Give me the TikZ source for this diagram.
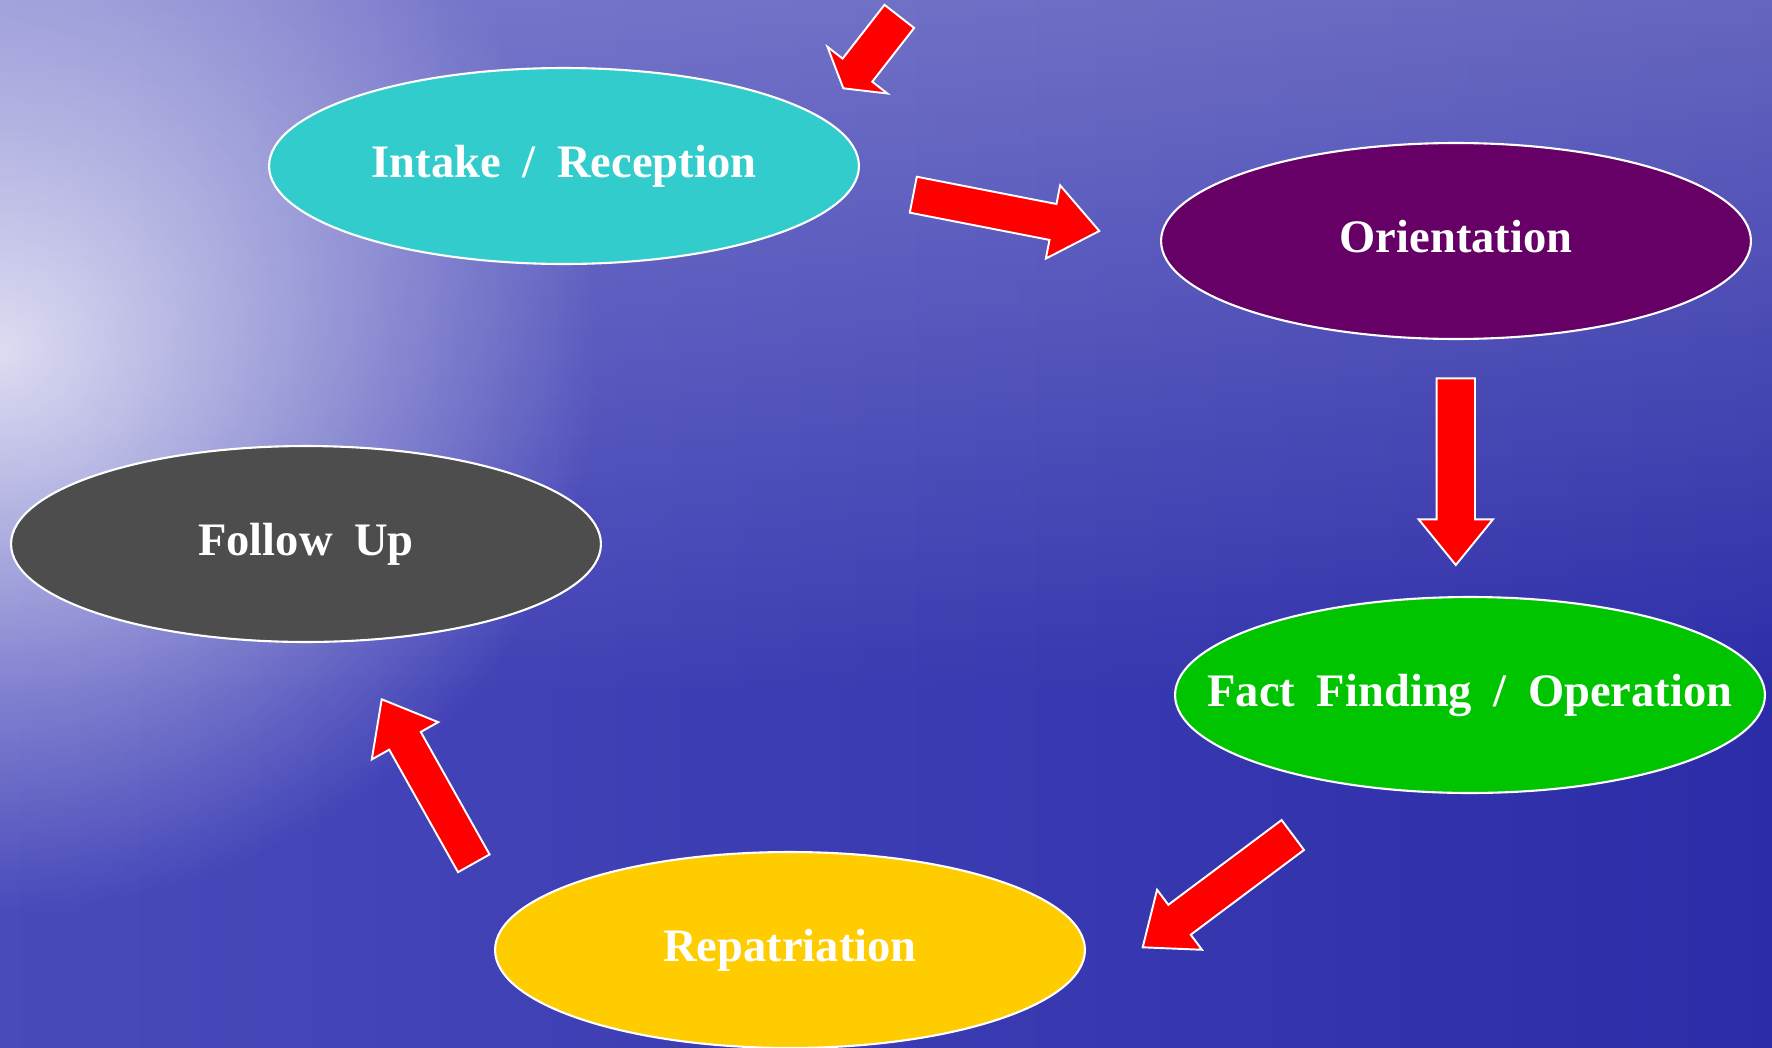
\documentclass[tikz,border=0pt]{standalone}
\usepackage{fontspec}
\setmainfont{Liberation Serif}[WordSpace=1.85]
\usetikzlibrary{shapes.geometric,calc,fadings}
\definecolor{cIntake}{HTML}{33CCCC}
\definecolor{cOrient}{HTML}{660066}
\definecolor{cFollow}{HTML}{4D4D4D}
\definecolor{cFact}{HTML}{00C400}
\definecolor{cRepat}{HTML}{FFCC00}
\definecolor{bgLeft}{HTML}{4A4ABC}
\definecolor{bgRight}{HTML}{2C2CA8}
\tikzfading[name=midstripe, top color=transparent!100, middle color=transparent!0, bottom color=transparent!100]
\tikzfading[name=glow, inner color=transparent!0, outer color=transparent!100]
\tikzfading[name=topdown, top color=transparent!0, bottom color=transparent!100]
\tikzset{
  stage/.style={ellipse, draw=white, line width=1.2pt, minimum width=11.8cm, minimum height=3.92cm, inner sep=0pt},
  stagetext/.style={text=white, font=\fontsize{26.5}{30}\selectfont\bfseries, text height=17.5pt, text depth=0pt, inner sep=0pt, yshift=2.3pt},
  redarrow/.style={fill=red, draw=white, line width=1.1pt, line join=miter}
}
\newcommand\blockarrow[5]{%
  \coordinate (#1-h) at ($(#2)!#5!(#1)$);
  \draw[redarrow] ($(#1)!#3!90:(#2)$) -- ($(#1-h)!#3!90:(#2)$) -- ($(#1-h)!#4!90:(#2)$) -- (#2)
     -- ($(#1-h)!#4!-90:(#2)$) -- ($(#1-h)!#3!-90:(#2)$) -- ($(#1)!#3!-90:(#2)$) -- cycle;
}
\begin{document}
\begin{tikzpicture}[x=0.02cm, y=-0.02cm]
\useasboundingbox (0,0) rectangle (1772,1048);
% background
\begin{scope}
\clip (0,0) rectangle (1772,1048);
\fill[bgRight] (-10,-10) rectangle (1782,1058);
\shade[left color=bgLeft, right color=bgRight] (-10,-10) rectangle (1782,1058);
\fill[white, fill opacity=0.28, path fading=topdown] (-10,-10) rectangle (1782,700);
\fill[white, fill opacity=0.78, path fading=glow] (0,350) ellipse (600 and 560);
\fill[white, fill opacity=0.35, path fading=midstripe] (-10,100) rectangle (1782,160);
\end{scope}
% stages
\node[stage, fill=cIntake, label={[stagetext]center:Intake / Reception}] (intake) at (564,166) {};
\node[stage, fill=cOrient, label={[stagetext]center:Orientation}] (orient) at (1456,241) {};
\node[stage, fill=cFollow, label={[stagetext]center:Follow Up}] (follow) at (306,544) {};
\node[stage, fill=cFact, label={[stagetext]center:Fact Finding / Operation}] (fact) at (1470,695) {};
\node[stage, fill=cRepat, label={[stagetext]center:Repatriation}] (repat) at (790,950) {};
% arrows
\coordinate (a1t) at (899.3,16.4);  \coordinate (a1p) at (843.3,88.3);
\coordinate (a2t) at (913.3,194.7); \coordinate (a2p) at (1099.3,231);
\coordinate (a3t) at (1455.8,378.3); \coordinate (a3p) at (1455.8,565);
\coordinate (a4t) at (1292.8,835);  \coordinate (a4p) at (1142.7,947.3);
\coordinate (a5t) at (473.8,863.3); \coordinate (a5p) at (381.7,699.3);
\blockarrow{a1t}{a1p}{0.376cm}{0.76cm}{0.46cm}
\blockarrow{a2t}{a2p}{0.366cm}{0.746cm}{0.944cm}
\blockarrow{a3t}{a3p}{0.384cm}{0.744cm}{0.914cm}
\blockarrow{a4t}{a4p}{0.374cm}{0.75cm}{0.92cm}
\blockarrow{a5t}{a5p}{0.362cm}{0.762cm}{0.952cm}
\end{tikzpicture}
\end{document}
